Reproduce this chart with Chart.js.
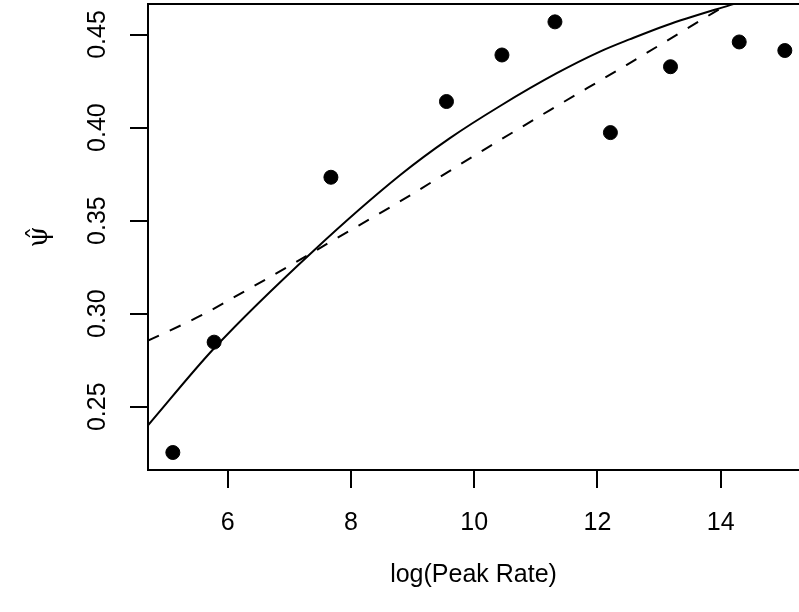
<!DOCTYPE html>
<html>
<head>
<meta charset="utf-8">
<script src="https://cdn.jsdelivr.net/npm/chart.js@4.4.1/dist/chart.umd.min.js"></script>
<style>
  html, body { margin: 0; padding: 0; background: #ffffff; overflow: hidden; }
  #wrap { width: 799px; height: 612px; position: relative; }
</style>
</head>
<body>
<div id="wrap"><canvas id="c" width="799" height="612"></canvas></div>
<script>
// ---- data ----
const logPeakRate = [5.11, 5.78, 7.675, 9.55, 10.45, 11.31, 12.21, 13.185, 14.30, 15.04];
const psiHat      = [0.2254, 0.2847, 0.3733, 0.4140, 0.4390, 0.4568, 0.3973, 0.4327, 0.4460, 0.4414];

const solidX = [4.707, 5.78, 7.39, 8.80, 9.60, 10.42, 11.34, 12.04, 12.53, 13.12, 14.15, 15.27];
const solidY = [0.2400, 0.2814, 0.3337, 0.3745, 0.3942, 0.4116, 0.4292, 0.4408, 0.4475, 0.4550, 0.4658, 0.4770];

const dashX = [4.707, 5.56, 6.30, 7.02, 7.72, 8.79, 10.15, 11.23, 12.47, 13.87, 14.60];
const dashY = [0.2855, 0.2989, 0.3125, 0.3260, 0.3396, 0.3602, 0.3879, 0.4094, 0.4336, 0.4615, 0.4760];

const xTicks = [6, 8, 10, 12, 14];
const yTicks = [0.25, 0.30, 0.35, 0.40, 0.45];
const xRange = [4.707, 15.27];
const yRange = [0.2160, 0.4664];

const xTitle = 'log(Peak Rate)';
const yTitle = 'ψ̂';

// ---- build chart ----
const toXY = (xs, ys) => xs.map((x, i) => ({ x: x, y: ys[i] }));

const topBorder = {
  id: 'topBorder',
  afterDatasetsDraw(chart) {
    const { ctx, chartArea } = chart;
    ctx.save();
    ctx.strokeStyle = '#000';
    ctx.lineWidth = 2;
    ctx.beginPath();
    ctx.moveTo(chartArea.left - 1, chartArea.top);
    ctx.lineTo(chartArea.right, chartArea.top);
    ctx.stroke();
    ctx.restore();
  }
};

const FONT = '"Liberation Sans", Arial, Helvetica, sans-serif';

new Chart(document.getElementById('c'), {
  type: 'scatter',
  data: {
    datasets: [
      {
        label: 'observed',
        data: toXY(logPeakRate, psiHat),
        showLine: false,
        pointRadius: 7,
        pointBackgroundColor: '#000',
        pointBorderColor: '#000',
        pointBorderWidth: 1,
        clip: false,
        order: 1
      },
      {
        label: 'fit',
        type: 'line',
        data: toXY(solidX, solidY),
        borderColor: '#000',
        borderWidth: 2,
        pointRadius: 0,
        fill: false,
        cubicInterpolationMode: 'monotone',
        order: 2
      },
      {
        label: 'fit2',
        type: 'line',
        data: toXY(dashX, dashY),
        borderColor: '#000',
        borderWidth: 2,
        borderDash: [12, 12],
        pointRadius: 0,
        fill: false,
        cubicInterpolationMode: 'monotone',
        order: 3
      }
    ]
  },
  options: {
    responsive: false,
    animation: false,
    devicePixelRatio: 1,
    layout: { autoPadding: false, padding: { top: 4, right: 0, bottom: 0, left: 0 } },
    plugins: { legend: { display: false }, tooltip: { enabled: false } },
    scales: {
      x: {
        type: 'linear',
        min: xRange[0],
        max: xRange[1],
        afterBuildTicks: s => { s.ticks = xTicks.map(v => ({ value: v })); },
        afterFit: s => { s.height = 142; s.paddingLeft = 0; s.paddingRight = 0; },
        grid: { display: true, drawOnChartArea: false, drawTicks: true, tickLength: 18, color: '#000', lineWidth: 2 },
        border: { display: true, color: '#000', width: 2 },
        ticks: {
          color: '#000',
          padding: 20,
          maxRotation: 0,
          autoSkip: false,
          font: { family: FONT, size: 25 },
          callback: v => String(v)
        },
        title: {
          display: true,
          text: xTitle,
          color: '#000',
          padding: 22,
          font: { family: FONT, size: 25 }
        }
      },
      y: {
        type: 'linear',
        min: yRange[0],
        max: yRange[1],
        afterBuildTicks: s => { s.ticks = yTicks.map(v => ({ value: v })); },
        afterFit: s => { s.width = 148; s.paddingTop = 0; s.paddingBottom = 0; },
        grid: { display: true, drawOnChartArea: false, drawTicks: true, tickLength: 18, color: '#000', lineWidth: 2 },
        border: { display: true, color: '#000', width: 2 },
        ticks: {
          color: '#000',
          padding: 8,
          minRotation: 90,
          maxRotation: 90,
          crossAlign: 'center',
          autoSkip: false,
          font: { family: FONT, size: 25 },
          callback: v => Number(v).toFixed(2)
        },
        title: {
          display: true,
          text: yTitle,
          color: '#000',
          padding: 24,
          font: { family: '"DejaVu Serif", serif', size: 27 }
        }
      }
    }
  },
  plugins: [topBorder]
});
</script>
</body>
</html>
